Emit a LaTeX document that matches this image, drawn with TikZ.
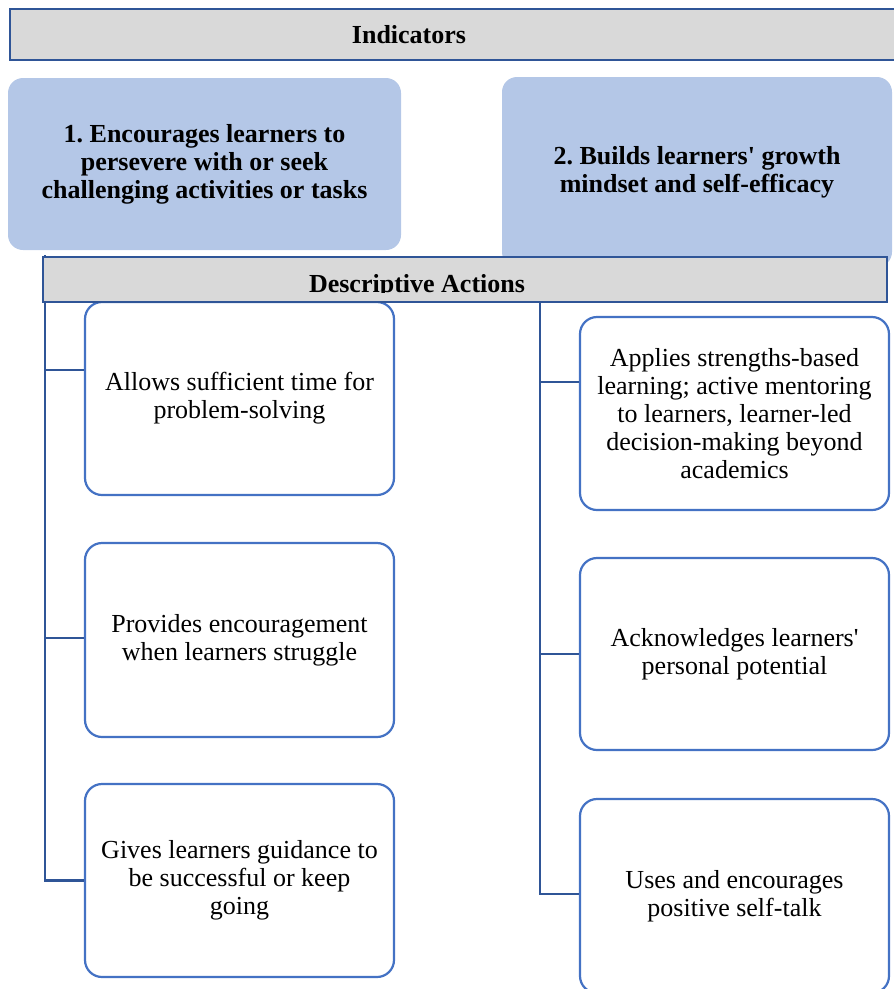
\documentclass[tikz,border=0pt]{standalone}
\usepackage{fontspec}
\setmainfont{Liberation Serif}
\usetikzlibrary{calc}
\definecolor{bargray}{HTML}{D9D9D9}
\definecolor{darkblue}{HTML}{2F5597}
\definecolor{boxblue}{HTML}{4472C4}
\definecolor{indfill}{HTML}{B4C7E7}
\tikzset{
  barbox/.style={draw=darkblue, line width=2.5pt, fill=bargray, inner sep=0pt},
  indbox/.style={fill=indfill, rounded corners=15pt, align=center, inner sep=0pt,
    font=\fontsize{26}{28}\selectfont\bfseries\frenchspacing},
  actbox/.style={draw=boxblue, line width=2.2pt, fill=white, rounded corners=17pt,
    align=center, inner sep=0pt, minimum width=309pt, font=\fontsize{26}{28}\selectfont},
  boldtxt/.style={font=\fontsize{26}{28}\selectfont\bfseries, inner sep=0pt},
  trunk/.style={draw=darkblue, line width=2.5pt}
}
\begin{document}
\begin{tikzpicture}[x=1pt,y=-1pt]
\useasboundingbox (0,0) rectangle (894,989);
\clip (0,0) rectangle (894,989);
% Indicators bar
\node[barbox, minimum width=900pt, minimum height=51pt] (ind) at (460,34.5) {};
\node[boldtxt] (indt) at (409,35) {Indicators};
% indicator boxes
\node[indbox, minimum width=393pt, minimum height=172pt] (i1) at (204.5,164)
  {1. Encourages learners to\\persevere with or seek\\challenging activities or tasks};
\node[indbox, minimum width=390pt, minimum height=190pt] (i2) at (697,172)
  {2. Builds learners\textquotesingle{} growth\\mindset and self-efficacy};
% left trunk start
\coordinate (lt) at (45,255);
% action boxes
\path (239.5,398.5) node[actbox, minimum height=193pt] (lb1)
  {Allows sufficient time for\\problem-solving};
\path (239.5,640) node[actbox, minimum height=194pt] (lb2)
  {Provides encouragement\\when learners struggle};
\path (239.5,880.5) node[actbox, minimum height=193pt] (lb3)
  {Gives learners guidance to\\be successful or keep\\going};
\path (734.5,413.5) node[actbox, minimum height=193pt] (rb1)
  {Applies strengths-based\\learning; active mentoring\\to learners, learner-led\\decision-making beyond\\academics};
\path (734.5,654) node[actbox, minimum height=192pt] (rb2)
  {Acknowledges learners\textquotesingle\\personal potential};
\path (734.5,896) node[actbox, minimum height=194pt] (rb3)
  {Uses and encourages\\positive self-talk};
% left connectors
\draw[trunk] (lt) |- (lb3.west);
\draw[trunk] ([yshift=28.5pt]lb1.west) -- ([yshift=28.5pt]lb1.west -| lt);
\draw[trunk] ([yshift=2pt]lb2.west) -- ([yshift=2pt]lb2.west -| lt);
% descriptive actions bar
\node[barbox, minimum width=844pt, minimum height=45pt] (desc) at (465,279.5) {};
\begin{scope}
  \clip (44,258) rectangle (886,292);
  \node[boldtxt, anchor=base] (desct) at (417,292.5) {Descriptive Actions};
\end{scope}
% right connectors
\coordinate (rt) at (540,301);
\draw[trunk] (rt) |- ([yshift=2pt]rb3.west);
\draw[trunk] ([yshift=31.5pt]rb1.west) -- ([yshift=31.5pt]rb1.west -| rt);
\draw[trunk] (rb2.west) -- (rb2.west -| rt);
\end{tikzpicture}
\end{document}
